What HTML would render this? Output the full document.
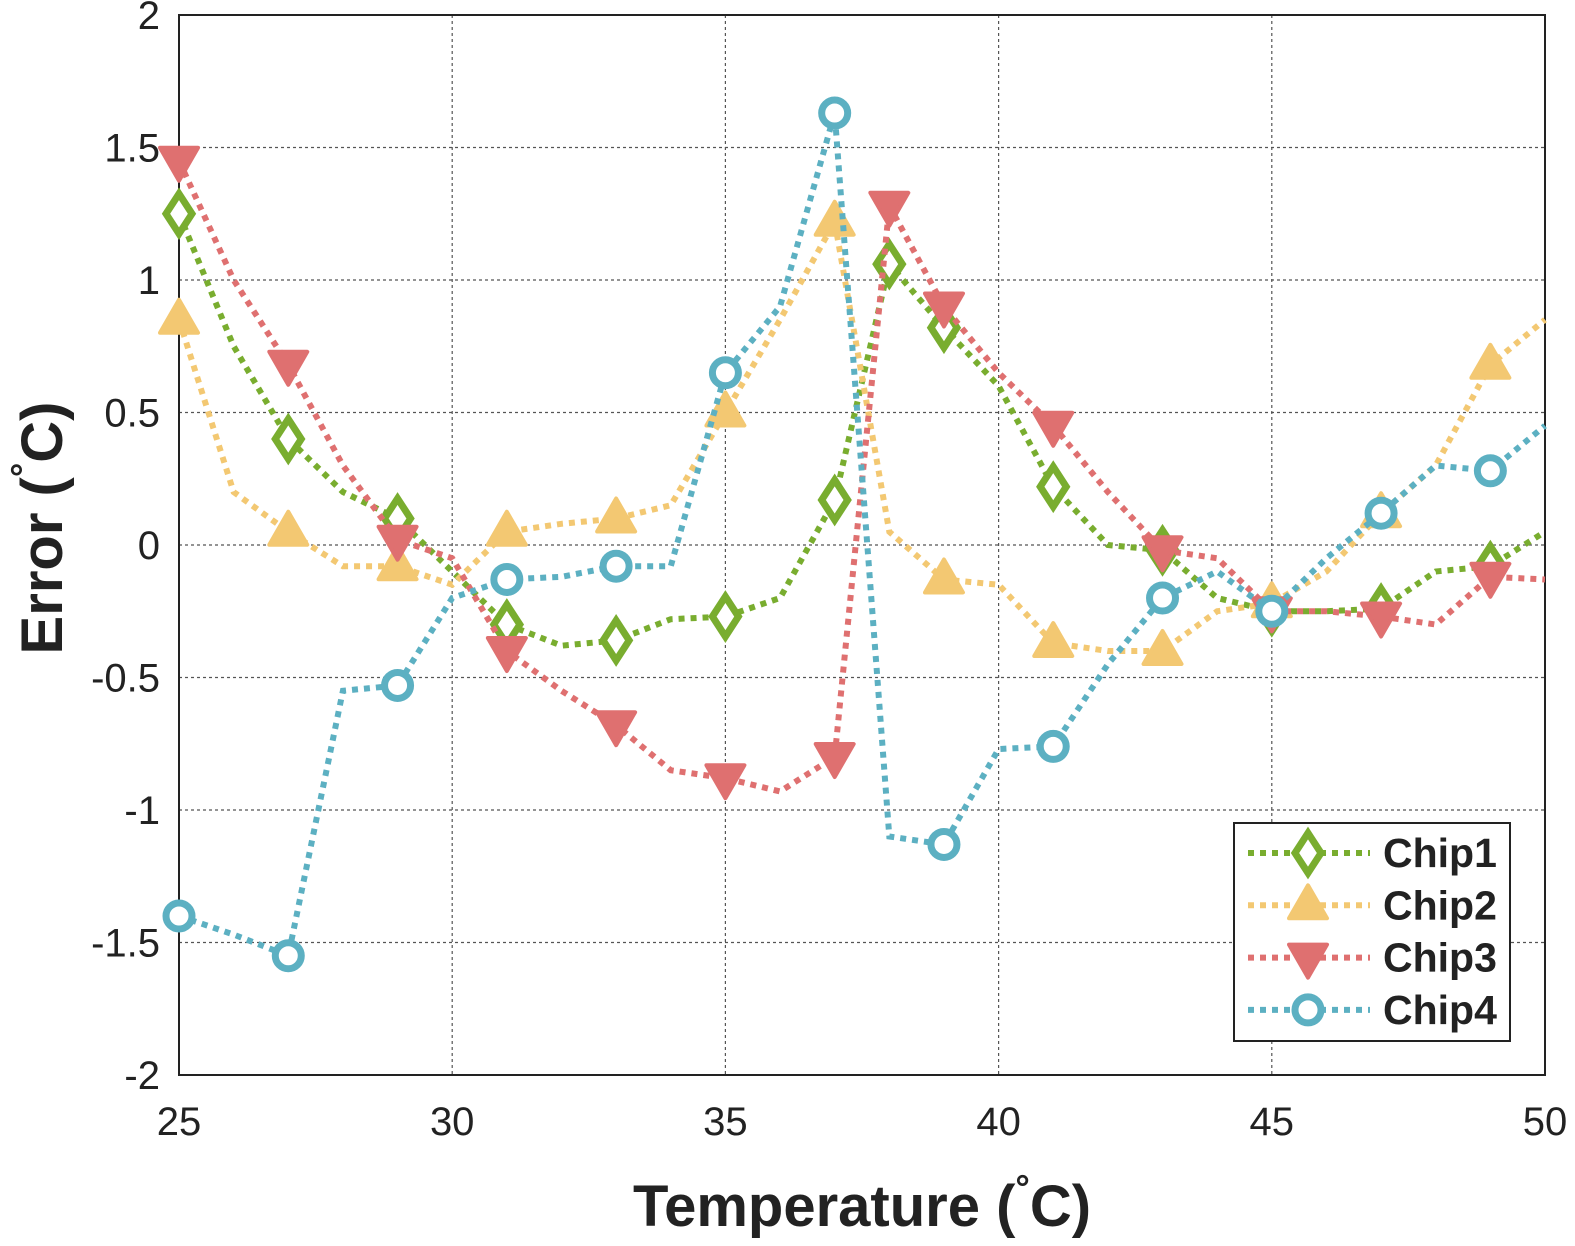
<!DOCTYPE html>
<html><head><meta charset="utf-8"><style>
body{margin:0;background:#fff}
svg text{font-family:"Liberation Sans",sans-serif;fill:#222}
</style></head><body>
<svg id="c" width="1575" height="1241" viewBox="0 0 1575 1241"></svg>
<script>
const temps=[25,26,27,28,29,30,31,32,33,34,35,36,37,38,39,40,41,42,43,44,45,46,47,48,49,50];
const chip1=[1.25,0.75,0.4,0.2,0.1,-0.1,-0.3,-0.38,-0.36,-0.28,-0.27,-0.2,0.17,1.06,0.82,0.6,0.22,0.0,-0.02,-0.2,-0.25,-0.25,-0.24,-0.1,-0.08,0.05];
const chip2=[0.85,0.2,0.05,-0.08,-0.08,-0.15,0.05,0.08,0.1,0.15,0.5,0.85,1.22,0.05,-0.13,-0.15,-0.37,-0.4,-0.4,-0.25,-0.22,-0.1,0.12,0.3,0.68,0.85];
const chip3=[1.45,1.0,0.68,0.3,0.02,-0.05,-0.4,-0.55,-0.68,-0.85,-0.88,-0.93,-0.8,1.28,0.9,0.65,0.45,0.2,-0.02,-0.05,-0.25,-0.25,-0.27,-0.3,-0.12,-0.13];
const chip4=[-1.4,-1.47,-1.55,-0.55,-0.53,-0.2,-0.13,-0.12,-0.08,-0.08,0.65,0.9,1.63,-1.1,-1.13,-0.77,-0.76,-0.45,-0.2,-0.1,-0.25,-0.05,0.12,0.3,0.28,0.45];
const markerTemps=[25,27,29,31,33,35,37,39,41,43,45,47,49];
const chip38=[true,false,true,false];
const xTicks=[25,30,35,40,45,50];
const yTicks=[2,1.5,1,0.5,0,-0.5,-1,-1.5,-2];
const names=["Chip1","Chip2","Chip3","Chip4"];
const colors=["#79ad2f","#f3c872","#df7070","#5cb0c2"];
const series=[chip1,chip2,chip3,chip4];
const shapes=["diamond","up","down","circle"];

const X0=179,X1=1545,Y0=15,Y1=1075;
const xs=v=>X0+(v-25)/25*(X1-X0);
const ys=v=>Y0+(2-v)/4*(Y1-Y0);
const svg=document.getElementById('c');
const NS='http://www.w3.org/2000/svg';
function el(t,a,p){const e=document.createElementNS(NS,t);for(const k in a)e.setAttribute(k,a[k]);(p||svg).appendChild(e);return e;}

el('rect',{x:X0,y:Y0,width:X1-X0,height:Y1-Y0,fill:'#fff',stroke:'none'});
xTicks.forEach(t=>{
  const g=el('line',{x1:xs(t),x2:xs(t),y1:Y0,y2:Y1,stroke:'#555','stroke-width':1.2,'stroke-dasharray':'3 3'});
  
  const tx=el('text',{x:xs(t),y:1135,'font-size':40,'text-anchor':'middle'});tx.textContent=t;
  
});
yTicks.forEach(t=>{
  const g=el('line',{x1:X0,x2:X1,y1:ys(t),y2:ys(t),stroke:'#555','stroke-width':1.2,'stroke-dasharray':'3 3'});
  
  const tx=el('text',{x:160,y:ys(t)+14,'font-size':40,'text-anchor':'end'});tx.textContent=t;
  
});
const fr=el('rect',{x:X0,y:Y0,width:X1-X0,height:Y1-Y0,fill:'none',stroke:'#222','stroke-width':2});


function marker(shape,cx,cy,col,parent){
  let m;
  if(shape==='diamond')m=el('polygon',{points:`${cx},${cy-20} ${cx+13},${cy} ${cx},${cy+20} ${cx-13},${cy}`,fill:'#fff',stroke:col,'stroke-width':7},parent);
  else if(shape==='up')m=el('polygon',{points:`${cx},${cy-20} ${cx+19},${cy+13} ${cx-19},${cy+13}`,fill:col,stroke:col,'stroke-width':4,'stroke-linejoin':'round'},parent);
  else if(shape==='down')m=el('polygon',{points:`${cx},${cy+20} ${cx+19},${cy-13} ${cx-19},${cy-13}`,fill:col,stroke:col,'stroke-width':4,'stroke-linejoin':'round'},parent);
  else m=el('circle',{cx:cx,cy:cy,r:13,fill:'#fff',stroke:col,'stroke-width':7},parent);
  return m;
}
series.forEach((s,i)=>{
  const g=el('g',{});
  
  
  const pts=temps.map((t,k)=>xs(t)+','+ys(s[k])).join(' ');
  const pl=el('polyline',{points:pts,fill:'none',stroke:colors[i],'stroke-width':6,'stroke-dasharray':'6 6'},g);
  
  const mt=markerTemps.slice();if(chip38[i])mt.push(38);
  mt.forEach(t=>{const k=temps.indexOf(t);const m=marker(shapes[i],xs(t),ys(s[k]),colors[i],g);
    });
});
// legend
const lg=el('g',{});

el('rect',{x:1234,y:823,width:276,height:218,fill:'#fff',stroke:'#222','stroke-width':2},lg);
names.forEach((n,i)=>{
  const y=853+i*52.3;
  const e=el('g',{},lg);
  
  el('line',{x1:1248,x2:1370,y1:y,y2:y,stroke:colors[i],'stroke-width':6,'stroke-dasharray':'6 6'},e);
  marker(shapes[i],1308,y,colors[i],e);
  const t=el('text',{x:1383,y:y+14,'font-size':41,'font-weight':'bold'},e);t.textContent=n;
});
const xt=el('text',{x:862,y:1226,'font-size':58,'font-weight':'bold','text-anchor':'middle'});
xt.innerHTML='Temperature (<tspan font-size="36" dy="-26">°</tspan><tspan dy="26">C)</tspan>';

const yt=el('text',{x:0,y:0,'font-size':58,'font-weight':'bold','text-anchor':'middle',transform:'translate(62,528) rotate(-90)'});
yt.innerHTML='Error (<tspan font-size="36" dy="-26">°</tspan><tspan dy="26">C)</tspan>';

</script>
</body></html>
